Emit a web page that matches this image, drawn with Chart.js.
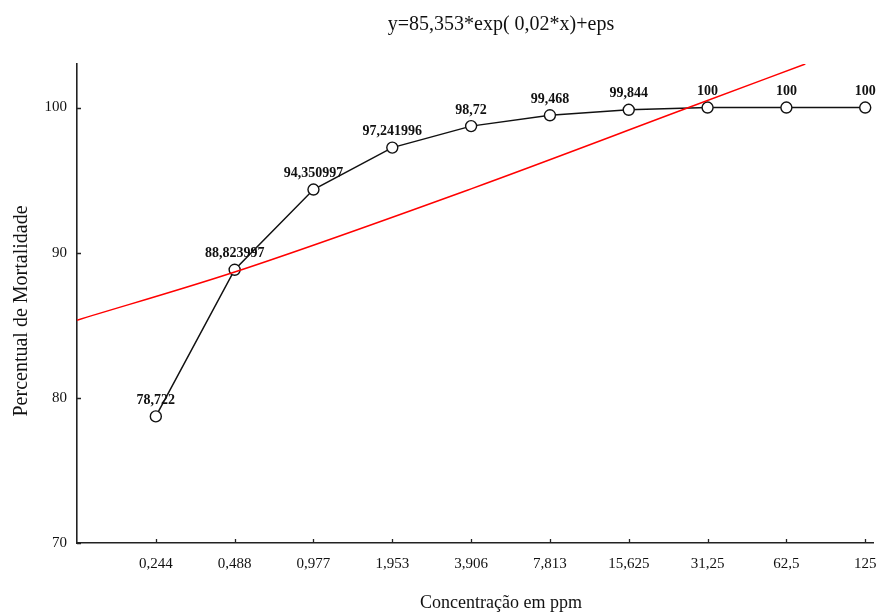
<!DOCTYPE html>
<html>
<head>
<meta charset="utf-8">
<script src="https://cdn.jsdelivr.net/npm/chart.js@4.4.0/dist/chart.umd.min.js"></script>
<style>
  html, body { margin: 0; padding: 0; background: #fff; }
  #wrap { width: 880px; height: 616px; }
</style>
</head>
<body>
<div id="wrap"><canvas id="mortChart" width="880" height="616"></canvas></div>
<script>
// concentrations (ppm), plotted at evenly spaced positions 1..10
const concLabels = ["0,244", "0,488", "0,977", "1,953", "3,906", "7,813", "15,625", "31,25", "62,5", "125"];
const mortality = [78.722, 88.823997, 94.350997, 97.241996, 98.72, 99.468, 99.844, 100, 100, 100];
const pointLabels = ["78,722", "88,823997", "94,350997", "97,241996", "98,72", "99,468", "99,844", "100", "100", "100"];

// red fitted curve (x in category positions)
const fitX = [0, 2, 5, 7.76, 9.24];
const fitY = [85.35, 88.67, 94.4, 100, 103.0];

const yTicks = [70, 80, 90, 100];
const titleText = "y=85,353*exp( 0,02*x)+eps";
const xTitle = "Concentração em ppm";
const yTitle = "Percentual de Mortalidade";

const serif = "'Liberation Serif', 'Times New Roman', serif";

// labels above points, inner tick marks and titles
const decorPlugin = {
  id: "decor",
  afterDatasetsDraw(chart) {
    const ctx = chart.ctx;
    const meta = chart.getDatasetMeta(1);
    ctx.save();
    ctx.fillStyle = "#111";
    ctx.font = "bold 14px " + serif;
    ctx.textAlign = "center";
    ctx.textBaseline = "middle";
    meta.data.forEach((pt, i) => {
      ctx.fillText(pointLabels[i], pt.x, pt.y - 16);
    });
    ctx.restore();
  },
  afterDraw(chart) {
    const ctx = chart.ctx;
    const xs = chart.scales.x, ys = chart.scales.y;
    const area = chart.chartArea;
    ctx.save();
    ctx.strokeStyle = "#222";
    ctx.lineWidth = 1.3;
    ctx.beginPath();
    concLabels.forEach((l, i) => {
      const px = Math.round(xs.getPixelForValue(i + 1)) + 0.5;
      ctx.moveTo(px, area.bottom);
      ctx.lineTo(px, area.bottom - 4);
    });
    yTicks.forEach(v => {
      const py = Math.round(ys.getPixelForValue(v)) + 0.5;
      ctx.moveTo(area.left, py);
      ctx.lineTo(area.left + 4, py);
    });
    ctx.stroke();

    ctx.fillStyle = "#111";
    ctx.textAlign = "center";
    ctx.textBaseline = "middle";
    ctx.font = "20px " + serif;
    ctx.fillText(titleText, 501, 25);
    ctx.font = "18px " + serif;
    ctx.fillText(xTitle, 501, 603);
    ctx.translate(22, 311);
    ctx.rotate(-Math.PI / 2);
    ctx.font = "20px " + serif;
    ctx.fillText(yTitle, 0, 0);
    ctx.restore();
  }
};

new Chart(document.getElementById("mortChart"), {
  type: "line",
  data: {
    datasets: [
      {
        label: "ajuste",
        data: fitX.map((x, i) => ({ x: x, y: fitY[i] })),
        borderColor: "#ff0000",
        borderWidth: 1.5,
        pointRadius: 0,
        cubicInterpolationMode: "monotone",
        fill: false
      },
      {
        label: "mortalidade",
        data: mortality.map((v, i) => ({ x: i + 1, y: v })),
        borderColor: "#111",
        borderWidth: 1.5,
        pointRadius: 5.5,
        pointBackgroundColor: "#fff",
        pointBorderColor: "#111",
        pointBorderWidth: 1.4,
        tension: 0,
        fill: false
      }
    ]
  },
  options: {
    responsive: false,
    animation: false,
    layout: { padding: { top: 64, right: 1, left: 0, bottom: 0 } },
    plugins: {
      legend: { display: false },
      tooltip: { enabled: false },
      title: { display: false }
    },
    scales: {
      x: {
        type: "linear",
        min: 0,
        max: 10.1,
        afterBuildTicks: s => { s.ticks = concLabels.map((l, i) => ({ value: i + 1 })); },
        afterFit: s => { s.height = 73; s.paddingLeft = 0; s.paddingRight = 0; },
        grid: { display: false },
        border: { display: true, color: "#222", width: 1.6 },
        ticks: {
          autoSkip: false,
          maxRotation: 0,
          padding: 4,
          color: "#111",
          font: { family: serif, size: 15 },
          callback: v => concLabels[Math.round(v) - 1]
        }
      },
      y: {
        min: 70,
        max: 103,
        afterBuildTicks: s => { s.ticks = yTicks.map(v => ({ value: v })); },
        afterFit: s => { s.width = 77; s.paddingTop = 0; s.paddingBottom = 0; },
        grid: { display: false },
        border: { display: true, color: "#222", width: 1.6 },
        ticks: {
          padding: 2,
          color: "#111",
          font: { family: serif, size: 15 }
        }
      }
    }
  },
  plugins: [decorPlugin]
});
</script>
</body>
</html>
